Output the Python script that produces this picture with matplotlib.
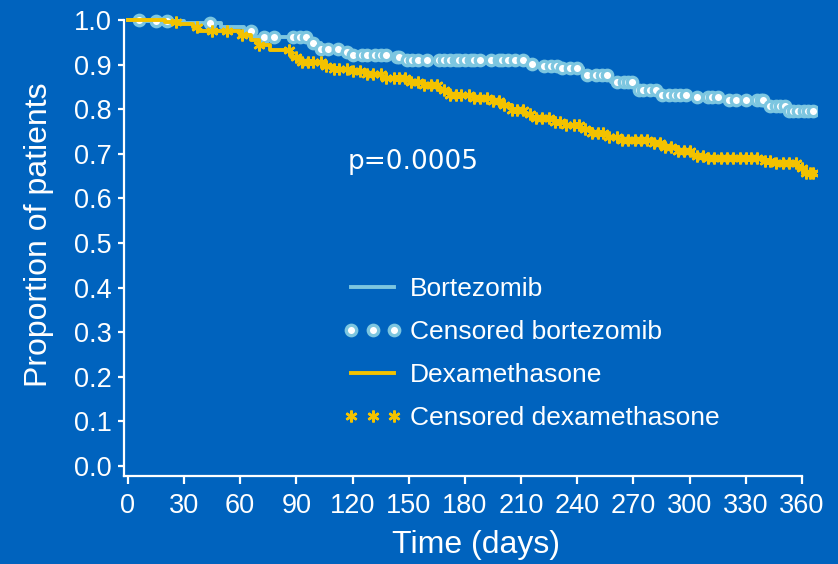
import numpy as np
import matplotlib.pyplot as plt
from matplotlib.lines import Line2D

# Kaplan-Meier step curves: (day, proportion surviving)
bort_days = [0, 10, 30, 50, 62, 68, 97, 103, 115, 120, 140, 148, 212, 222, 232,
             243, 258, 271, 285, 303, 316, 340, 353, 368]
bort_surv = [1.0, 0.997, 0.993, 0.985, 0.975, 0.962, 0.948, 0.935, 0.928, 0.922,
             0.917, 0.910, 0.902, 0.897, 0.893, 0.877, 0.861, 0.843, 0.832, 0.827,
             0.821, 0.807, 0.796, 0.796]

dex_days = [0, 20, 27, 35, 38, 60, 66, 70, 76, 87, 92, 105, 110, 118, 128, 136,
            150, 158, 166, 172, 185, 195, 200, 205, 212, 216, 228, 234, 242, 248,
            256, 262, 280, 286, 294, 302, 310, 340, 345, 358, 362, 368]
dex_surv = [1.0, 0.995, 0.99, 0.984, 0.976, 0.966, 0.955, 0.944, 0.933, 0.917,
            0.906, 0.897, 0.890, 0.886, 0.878, 0.870, 0.862, 0.854, 0.843, 0.832,
            0.826, 0.818, 0.810, 0.798, 0.790, 0.780, 0.771, 0.765, 0.756, 0.747,
            0.738, 0.731, 0.724, 0.715, 0.706, 0.696, 0.690, 0.684, 0.679, 0.668,
            0.658, 0.655]

# censoring times
bort_cens = [6, 15, 21, 44, 66, 73, 78, 88, 92, 95, 99, 103, 107, 112, 117, 120,
             125, 128, 132, 135, 138, 144, 145, 149, 152, 155, 160, 166, 169, 172,
             175, 177, 180, 183, 185, 188, 194, 198, 200, 203, 207, 211, 216, 222,
             226, 229, 232, 236, 240, 245, 250, 253, 256, 261, 265, 267, 269, 273,
             275, 279, 282, 285, 289, 292, 295, 298, 304, 310, 312, 315, 321, 325,
             330, 336, 338, 339, 343, 346, 348, 351, 353, 355, 358, 361, 363, 366]
dex_cens = [26, 37, 45, 53, 61, 70, 86, 90, 93, 96, 99, 103, 106, 110, 113, 117,
            120, 124, 128, 131, 135, 138, 142, 145, 148, 151, 155, 158, 162, 165,
            169, 172, 175, 178, 182, 185, 188, 192, 195, 198, 201, 205, 208, 211,
            215, 218, 221, 225, 228, 231, 234, 238, 241, 244, 248, 251, 254, 257,
            261, 264, 267, 271, 274, 277, 281, 284, 287, 290, 294, 297, 300, 304,
            307, 310, 313, 317, 320, 323, 327, 330, 333, 336, 340, 343, 346, 350,
            353, 357, 360, 362, 364, 366]

x_ticks = list(range(0, 361, 30))
y_ticks = [0.0, 0.1, 0.2, 0.3, 0.4, 0.5, 0.6, 0.7, 0.8, 0.9, 1.0]

bg = '#0063be'
c_bort = '#7cc6e0'
c_dex = '#f3c200'


def at(days, surv, t):
    idx = np.searchsorted(days, t, side='right') - 1
    return np.asarray(surv)[idx]


plt.rcParams['font.family'] = ['Liberation Sans', 'DejaVu Sans']

fig = plt.figure(figsize=(8.38, 5.64), dpi=100, facecolor=bg)
ax = fig.add_axes([124 / 838, 88 / 564, 693 / 838, 465 / 564], facecolor=bg)

ax.step(bort_days, bort_surv, where='post', color=c_bort, lw=2.8, zorder=2)
ax.plot(bort_cens, at(bort_days, bort_surv, bort_cens), ls='none', marker='o',
        ms=7.5, mfc='white', mec=c_bort, mew=2.4, zorder=3)
ax.step(dex_days, dex_surv, where='post', color=c_dex, lw=2.8, zorder=4)
ax.plot(dex_cens, at(dex_days, dex_surv, dex_cens), ls='none', marker=(6, 2, 0),
        ms=8.5, mec=c_dex, mew=1.8, zorder=5)

ax.set_xlim(-2, 368)
ax.set_ylim(-0.0224, 1.0202)
ax.set_xticks(x_ticks)
ax.set_yticks(y_ticks)
ax.set_yticklabels([f'{v:.1f}' for v in y_ticks])

for s in ['top', 'right']:
    ax.spines[s].set_visible(False)
for s in ['left', 'bottom']:
    ax.spines[s].set_color('white')
    ax.spines[s].set_linewidth(1.6)
ax.spines['left'].set_bounds(-0.0224, 1.0)
ax.spines['bottom'].set_bounds(-2, 360)

ax.tick_params(axis='x', colors='white', labelsize=19.5, length=6, width=1.6, pad=6)
ax.tick_params(axis='y', colors='white', labelsize=19.5, length=4, width=1.6, pad=5)

ax.set_ylabel('Proportion of patients', color='white', fontsize=23)
ax.yaxis.set_label_coords(-0.101, 0.518)
ax.set_xlabel('Time (days)', color='white', fontsize=23)
ax.xaxis.set_label_coords(0.508, -0.116)

ax.text(117.5, 0.682, 'p=0.0005', color='white', fontsize=19,
        family='DejaVu Sans', va='center', ha='left')

handles = [
    Line2D([], [], color=c_bort, lw=2.8),
    Line2D([], [], ls='none', marker='o', ms=7.5, mfc='white', mec=c_bort, mew=2.4),
    Line2D([], [], color=c_dex, lw=2.8),
    Line2D([], [], ls='none', marker=(6, 2, 0), ms=8.5, mec=c_dex, mew=1.8),
]
labels = ['Bortezomib', 'Censored bortezomib', 'Dexamethasone', 'Censored dexamethasone']
leg = fig.legend(handles, labels, loc='upper left', bbox_to_anchor=(343 / 838, 1 - 277 / 564),
                 frameon=False, fontsize=19, numpoints=3, handlelength=2.25,
                 handletextpad=0.3, labelspacing=0.72, borderpad=0, borderaxespad=0)
for t in leg.get_texts():
    t.set_color('white')

fig.savefig('out.png', dpi=100, facecolor=bg)
